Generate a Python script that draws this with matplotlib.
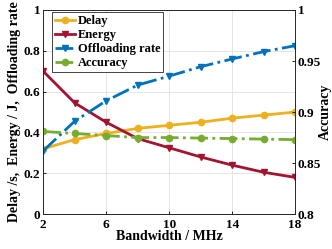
import numpy as np
import matplotlib
matplotlib.use('Agg')
from matplotlib import pyplot as plt

# data
bandwidth = [2, 4, 6, 8, 10, 12, 14, 16, 18]
delay = [0.32, 0.365, 0.395, 0.42, 0.435, 0.45, 0.47, 0.485, 0.50]
energy = [0.70, 0.545, 0.45, 0.37, 0.325, 0.28, 0.24, 0.205, 0.18]
offload = [0.31, 0.455, 0.555, 0.632, 0.676, 0.722, 0.76, 0.796, 0.825]
accuracy = [0.881, 0.879, 0.877, 0.875, 0.875, 0.8745, 0.874, 0.8735, 0.873]
xticks = [2, 6, 10, 14, 18]

plt.rcParams['font.family'] = ['Liberation Serif', 'DejaVu Serif']
plt.rcParams['font.weight'] = 'bold'
plt.rcParams['font.size'] = 9.5
plt.rcParams['xtick.direction'] = 'in'
plt.rcParams['ytick.direction'] = 'in'

fig = plt.figure(figsize=(3.32, 2.49), dpi=100)
ax = fig.add_axes([0.13, 0.14, 0.759, 0.82])
ax2 = ax.twinx()

c_delay = '#EDB120'
c_energy = '#A2142F'
c_off = '#0072BD'
c_acc = '#77AC30'

l1, = ax.plot(bandwidth, delay, '-o', color=c_delay, lw=2, ms=4.5, label='Delay')
l2, = ax.plot(bandwidth, energy, '-v', color=c_energy, lw=2, ms=5, label='Energy')
l3, = ax.plot(bandwidth, offload, '-.v', color=c_off, lw=2, ms=5, label='Offloading rate')
l4, = ax2.plot(bandwidth, accuracy, '-.o', color=c_acc, lw=2, ms=4.5, label='Accuracy')

ax.set_xlim(2, 18)
ax.set_ylim(0, 1)
ax2.set_ylim(0.8, 1)
ax.set_xticks(xticks)
ax.set_yticks([0, 0.2, 0.4, 0.6, 0.8, 1])
ax.set_yticklabels(['0', '0.2', '0.4', '0.6', '0.8', '1'])
ax2.set_yticks([0.8, 0.85, 0.9, 0.95, 1])
ax2.set_yticklabels(['0.8', '0.85', '0.9', '0.95', '1'])
ax.grid(True, color='#e0e0e0', lw=0.6)
ax.set_axisbelow(True)

for a in (ax, ax2):
    for s in a.spines.values():
        s.set_color('#262626')
        s.set_linewidth(0.6)
    a.tick_params(length=2.5, width=0.6, pad=2, labelsize=9.5)
ax.tick_params(axis='x', pad=3.5)

ax.set_xlabel('Bandwidth / MHz', fontweight='bold', fontsize=10, labelpad=-1)
ax.set_ylabel('Delay /s,  Energy / J,  Offloading rate', fontweight='bold', fontsize=10, labelpad=2)
ax2.set_ylabel('Accuracy', fontweight='bold', fontsize=10, labelpad=-2)

leg = ax.legend(handles=[l1, l2, l3, l4], loc='upper left', bbox_to_anchor=(0.03, 0.995),
                fontsize=9, handlelength=1.6, handletextpad=0.2, borderpad=0.25,
                labelspacing=0.15, fancybox=False, framealpha=1, borderaxespad=0.1)
leg.get_frame().set_edgecolor('#262626')
leg.get_frame().set_linewidth(0.6)

plt.savefig('out.png', dpi=100)
